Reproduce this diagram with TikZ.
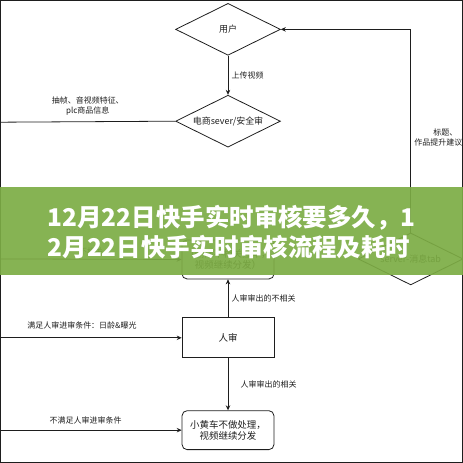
\documentclass[tikz,border=0pt]{standalone}
\usepackage{fontspec}
\setmainfont{Noto Sans CJK SC}
\usetikzlibrary{shapes.geometric,arrows.meta}
\definecolor{BandGreen}{RGB}{124,172,68}
\definecolor{InkGray}{RGB}{30,30,30}

\begin{document}
\begin{tikzpicture}[x=1pt,y=-1pt,
>={Stealth[length=5pt,width=4.5pt]},
every path/.style={line width=0.8pt,draw=InkGray},
dia/.style={draw,diamond,aspect=2,inner sep=0pt,minimum width=105pt,minimum height=52pt,font=\fontsize{9}{11}\selectfont,text=InkGray},
box/.style={draw,rectangle,minimum width=92pt,minimum height=40pt,align=center,font=\fontsize{9.5}{11}\selectfont,text=InkGray},
rbox/.style={box,rounded corners=5pt},
lbl/.style={font=\fontsize{8}{9.5}\selectfont,text=InkGray,align=center},
band/.style={fill=BandGreen,fill opacity=0.92,draw=none,minimum width=463pt,minimum height=88pt,inner sep=0pt},
title/.style={text=white,align=left,inner sep=0pt,font=\fontsize{24.5}{30.5}\selectfont\bfseries}]

\useasboundingbox (0,0) rectangle (463,463);

\node[dia] (user) at (228,29) {用户};
\node[dia] (shop) at (228,121) {电商sever/安全审};
\node[dia] (srv) at (411,259) {server-消息tab};
\node[rbox,minimum height=39pt] (drop) at (228,259.5) {（删除不相关挂车，\\视频继续分发）};
\node[box] (manual) at (228,338) {人审};
\node[rbox,minimum height=39pt] (cart) at (228,430.5) {小黄车不做处理，\\视频继续分发};

\coordinate (in1) at (0,122);
\coordinate (in2) at (0,259);
\coordinate (in3) at (0,338);
\coordinate (in4) at (0,430.5);

\draw[->] (user) -- node[lbl,right]{上传视频} (shop);
\draw (shop.west) -- node[lbl,above=3pt]{抽帧、音视频特征、\\plc商品信息} (in1);
\draw[->] (srv.north) |- node[lbl,pos=0.234,anchor=west,align=left]{\hspace*{19pt}标题、\\作品提升建议} (user.east);
\draw[->] (in2) -- node[lbl,above]{不相关} (drop.west);
\draw[->] (manual) -- node[lbl,right]{人审审出的不相关} (drop);
\draw[->] (manual) -- node[lbl,right=9pt]{人审审出的相关} (cart);
\draw[->] (in3) -- node[lbl,above=5pt,pos=0.45]{满足人审进审条件：日龄\&曝光} (manual.west);
\draw[->] (in4) -- node[lbl,above=2pt,pos=0.47]{不满足人审进审条件} (cart.west);

\node[band] (strip) at (231.5,231) {};
\node[title,anchor=west] (head) at (47,232) {12月22日快手实时审核要多久，1\\2月22日快手实时审核流程及耗时};

\end{tikzpicture}
\end{document}
